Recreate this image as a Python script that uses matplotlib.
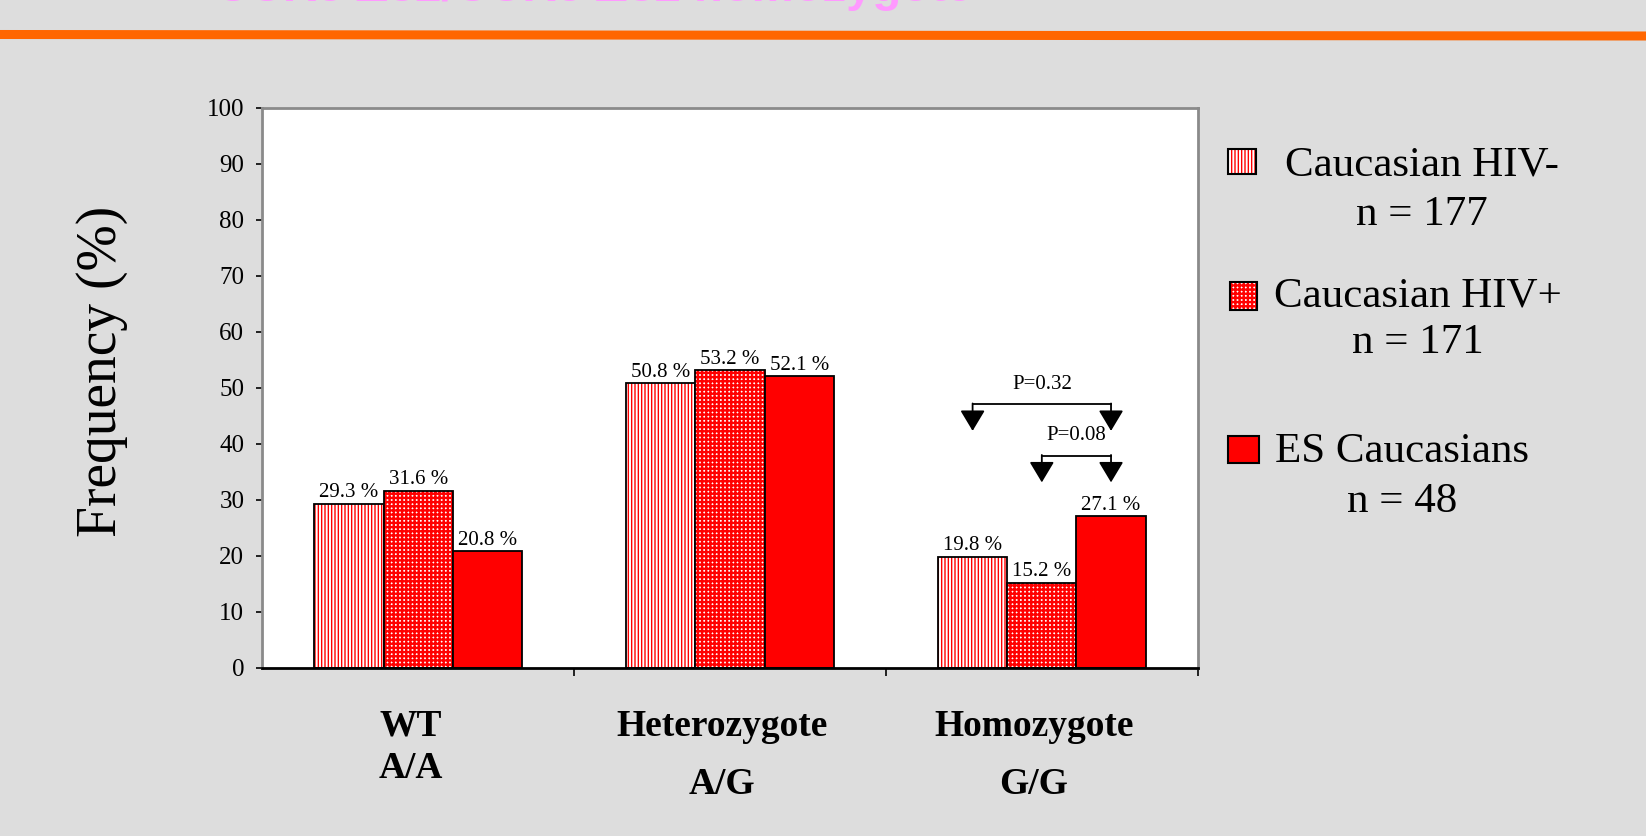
import numpy as np
import matplotlib.pyplot as plt
from matplotlib.patches import Rectangle
from matplotlib.lines import Line2D
from matplotlib.transforms import blended_transform_factory

plt.rcParams["font.family"] = ["Liberation Serif", "DejaVu Serif"]
plt.rcParams["hatch.linewidth"] = 1.0

# genotype groups on the x axis
genotypes = ["WT", "Heterozygote", "Homozygote"]
alleles = ["A/A", "A/G", "G/G"]

# cohorts, sizes and genotype frequencies (%)
groups = ["Caucasian HIV-", "Caucasian HIV+", "ES Caucasians"]
group_n = [177, 171, 48]
hiv_neg = [29.3, 50.8, 19.8]
hiv_pos = [31.6, 53.2, 15.2]
es_cauc = [20.8, 52.1, 27.1]

# homozygote comparisons: (bar a, bar b, p value)
p_values = [(0, 2, 0.32), (1, 2, 0.08)]

W, H = 1646, 836
RED = "#ff0000"

fig = plt.figure(figsize=(W / 100, H / 100), dpi=100)
fig.patch.set_facecolor("#dddddd")
ax = fig.add_axes([262.4 / W, 1 - 667.6 / H, 935.3 / W, 559.6 / H])
ax.set_facecolor("white")

series = [hiv_neg, hiv_pos, es_cauc]
hatches = ["|||||", "++++", None]
hatch_lw = [1.0, 1.7, 1.0]
x = np.arange(len(genotypes))
width = 0.222
offsets = [-width, 0.0, width]

for vals, off, hatch, hlw in zip(series, offsets, hatches, hatch_lw):
    xs = x + off
    if hatch:
        with plt.rc_context({"hatch.linewidth": hlw}):
            ax.bar(xs, vals, width, color="white", edgecolor=RED, hatch=hatch, linewidth=0)
        ax.bar(xs, vals, width, fill=False, edgecolor="black", linewidth=1.3)
    else:
        ax.bar(xs, vals, width, color=RED, edgecolor="black", linewidth=1.3)
    for xi, v in zip(xs, vals):
        ax.annotate(f"{v} %", (xi, v), xytext=(0, 1), textcoords="offset points",
                    ha="center", va="bottom", fontsize=15)

ax.set_xlim(-0.5, 2.5)
ax.set_ylim(0, 100)
ax.set_yticks(np.arange(0, 101, 10))
ax.set_xticks([0.5, 1.5, 2.5])
ax.set_xticklabels([])
ax.tick_params(axis="y", direction="out", length=4, width=1.2, pad=9, labelsize=18)
ax.tick_params(axis="x", direction="out", length=6, width=1.2)

for side in ["left", "top", "right"]:
    ax.spines[side].set_color("#8a8a8a")
    ax.spines[side].set_linewidth(2)
ax.spines["bottom"].set_color("black")
ax.spines["bottom"].set_linewidth(2)

# category labels under the axis
trans = blended_transform_factory(ax.transData, fig.transFigure)
allele_y = [769, 785, 785]
for xi, g, a, ay in zip(x, genotypes, alleles, allele_y):
    ax.text(xi - 0.025, 1 - 726 / H, g, transform=trans, ha="center", va="center",
            fontsize=27, fontweight="bold")
    ax.text(xi - 0.025, 1 - ay / H, a, transform=trans, ha="center", va="center",
            fontsize=27, fontweight="bold")

# p-value brackets over the homozygote bars
levels = [47.1, 37.9]
drop = 4.8
for (i, j, p), lev in zip(p_values, levels):
    xl = x[2] + offsets[i]
    xr = x[2] + offsets[j]
    ax.plot([xl, xr], [lev, lev], color="black", lw=1.3)
    for xe in (xl, xr):
        ax.annotate("", xy=(xe, lev - drop), xytext=(xe, lev + 0.1),
                    arrowprops=dict(arrowstyle="-|>,head_length=0.8,head_width=0.48",
                                    color="black", lw=1.3, shrinkA=0, shrinkB=0,
                                    mutation_scale=16))
    ax.text((xl + xr) / 2, lev + 3.5, f"P={p}", ha="center", va="center", fontsize=15)

# legend, drawn beside the plot
legend_boxes = [(1228, 149, 28, 25), (1230, 282, 27, 28), (1228, 436, 31, 27)]
legend_text = [(1422, 165, 215), (1418, 296, 343), (1402, 452, 502)]
for g, n, hatch, hlw, (bx, by, bw, bh), (tx, ty1, ty2) in zip(
        groups, group_n, hatches, hatch_lw, legend_boxes, legend_text):
    xy = (bx / W, 1 - (by + bh) / H)
    if hatch:
        with plt.rc_context({"hatch.linewidth": hlw}):
            fig.add_artist(Rectangle(xy, bw / W, bh / H, facecolor="white", edgecolor=RED,
                                     hatch=hatch, linewidth=0, transform=fig.transFigure))
        fig.add_artist(Rectangle(xy, bw / W, bh / H, fill=False, edgecolor="black",
                                 linewidth=1.5, transform=fig.transFigure))
    else:
        fig.add_artist(Rectangle(xy, bw / W, bh / H, facecolor=RED, edgecolor="black",
                                 linewidth=1.5, transform=fig.transFigure))
    fig.text(tx / W, 1 - ty1 / H, g, ha="center", va="center", fontsize=31)
    fig.text(tx / W, 1 - ty2 / H, f"n = {n}", ha="center", va="center", fontsize=31)

fig.text(102 / W, 1 - 371 / H, "Frequency (%)", rotation=90, ha="center", va="center",
         fontsize=40)

# slide header (runs off the top edge) and rule
fig.text(215 / W, 1 - 1 / H, "CCR5 Δ32/CCR5 Δ32 homozygote", color="#ff99ff",
         fontsize=34, fontweight="bold", family="Liberation Sans", va="baseline")
fig.add_artist(Line2D([0, 1], [1 - 34.5 / H, 1 - 36 / H], color="#ff6600", lw=6.5,
                      transform=fig.transFigure))

fig.savefig("out.png", dpi=100, facecolor=fig.get_facecolor())
